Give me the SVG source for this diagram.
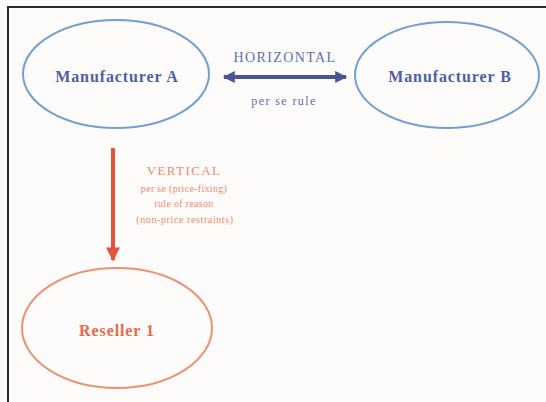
<svg xmlns="http://www.w3.org/2000/svg" width="546" height="402" viewBox="0 0 546 402">
<defs>
<style>
.frame{stroke:#2a2a2a;stroke-width:2;fill:none}
.mfr{fill:none;stroke:#6f9fd4;stroke-width:2}
.res{fill:none;stroke:#ef9070;stroke-width:2}
.lbl{font-family:"Liberation Serif",serif;font-weight:bold;font-size:16px;letter-spacing:0.9px;text-anchor:middle}
.blue{fill:#4d5fa6}
.red{fill:#e8694a}
.small{font-family:"Liberation Serif",serif;text-anchor:middle}
</style>
<marker id="hb" viewBox="0 0 10 10" refX="9" refY="5" markerWidth="4" markerHeight="3" orient="auto-start-reverse" markerUnits="strokeWidth">
<path d="M0,0 L10,5 L0,10 z" fill="#4a5494"/>
</marker>
<marker id="hr" viewBox="0 0 10 10" refX="9" refY="5" markerWidth="4.5" markerHeight="3.5" orient="auto" markerUnits="strokeWidth">
<path d="M0,0 L10,5 L0,10 z" fill="#e4533a"/>
</marker>
</defs>
<rect width="546" height="402" fill="#fdfcfb"/>
<path class="frame" d="M8,402 V7 H546"/>
<g id="manufacturer-a">
<ellipse class="mfr" cx="116" cy="74" rx="93" ry="54"/>
<text class="lbl blue" x="117" y="82">Manufacturer A</text>
</g>
<g id="manufacturer-b">
<ellipse class="mfr" cx="447" cy="75" rx="92" ry="53"/>
<text class="lbl blue" x="450" y="82">Manufacturer B</text>
</g>
<g id="reseller-1">
<ellipse class="res" cx="117" cy="328" rx="95" ry="60"/>
<text class="lbl red" x="117" y="336">Reseller 1</text>
</g>
<g id="connectors">
<line x1="224" y1="77" x2="346" y2="77" stroke="#4a5494" stroke-width="4" marker-start="url(#hb)" marker-end="url(#hb)"/>
<text class="small" x="285" y="62" font-size="14" letter-spacing="1.4" fill="#5a70b0">HORIZONTAL</text>
<text class="small" x="284" y="105" font-size="12" letter-spacing="1.4" fill="#5a70b0">per se rule</text>
<line x1="113" y1="148" x2="113" y2="260" stroke="#e4533a" stroke-width="4" marker-end="url(#hr)"/>
<text class="small" x="184" y="175" font-size="13" letter-spacing="1.4" fill="#ef8a6a">VERTICAL</text>
<text class="small" x="184" y="192" font-size="10" letter-spacing="0.3" fill="#ef8a6a">per se (price-fixing)</text>
<text class="small" x="184" y="207" font-size="10" letter-spacing="0.3" fill="#ef8a6a">rule of reason</text>
<text class="small" x="185" y="223" font-size="10" letter-spacing="0.6" fill="#ef8a6a">(non-price restraints)</text>
</g>
</svg>
